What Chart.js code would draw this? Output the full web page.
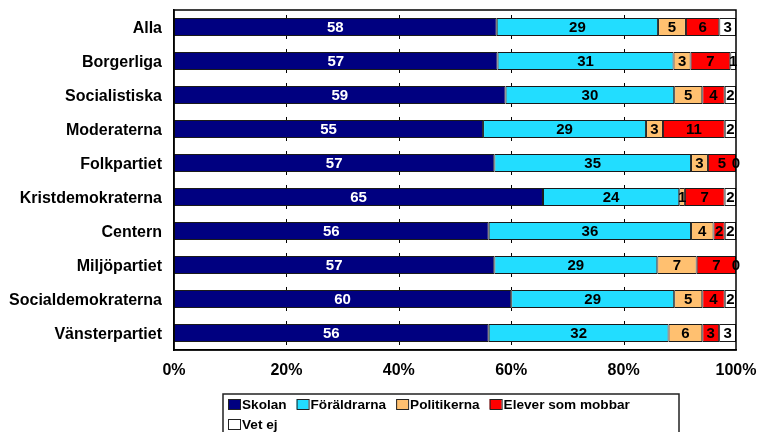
<!DOCTYPE html>
<html>
<head>
<meta charset="utf-8">
<script src="https://cdn.jsdelivr.net/npm/chart.js@4.4.1/dist/chart.umd.min.js"></script>
<style>
  html, body { margin: 0; padding: 0; background: #fff; }
  #wrap { width: 759px; height: 432px; position: relative; }
</style>
</head>
<body>
<div id="wrap"><canvas id="c" width="759" height="432"></canvas></div>
<script>
const categories = ["Alla", "Borgerliga", "Socialistiska", "Moderaterna", "Folkpartiet",
  "Kristdemokraterna", "Centern", "Miljöpartiet", "Socialdemokraterna", "Vänsterpartiet"];
const seriesNames = ["Skolan", "Föräldrarna", "Politikerna", "Elever som mobbar", "Vet ej"];
const skolan      = [58, 57, 59, 55, 57, 65, 56, 57, 60, 56];
const foraldrarna = [29, 31, 30, 29, 35, 24, 36, 29, 29, 32];
const politikerna = [5, 3, 5, 3, 3, 1, 4, 7, 5, 6];
const elever      = [6, 7, 4, 11, 5, 7, 2, 7, 4, 3];
const vetEj       = [3, 1, 2, 2, 0, 2, 2, 0, 2, 3];
const xTicks = [0, 20, 40, 60, 80, 100];

const raw = [skolan, foraldrarna, politikerna, elever, vetEj];
const colors = ["#000080", "#22DDFF", "#FFC070", "#FF0000", "#FFFFFF"];
const labelColors = ["#FFFFFF", "#000000", "#000000", "#000000", "#000000"];
const totals = categories.map((_, i) => raw.reduce((s, arr) => s + arr[i], 0));

const datasets = raw.map((arr, k) => ({
  label: seriesNames[k],
  data: arr.map((v, i) => v / totals[i] * 100),
  rawValues: arr,
  backgroundColor: colors[k],
  borderColor: "#1a1a1a",
  borderWidth: 1,
  borderSkipped: false,
  barPercentage: 1.0,
  categoryPercentage: 0.53
}));

const FONT = "'Liberation Sans', Arial, Helvetica, sans-serif";

const framePlugin = {
  id: 'frame',
  afterDraw(chart) {
    const { ctx, chartArea: a } = chart;
    ctx.save();
    ctx.strokeStyle = '#000';
    ctx.lineWidth = 1.5;
    ctx.strokeRect(a.left, a.top, a.right - a.left, a.bottom - a.top);
    ctx.restore();
  }
};

const tickMarkPlugin = {
  id: 'tickMarks',
  beforeDatasetsDraw(chart) {
    const { ctx } = chart;
    const xs = chart.scales.x;
    const meta = chart.getDatasetMeta(0);
    ctx.save();
    ctx.strokeStyle = '#000';
    ctx.lineWidth = 1;
    xTicks.slice(1, -1).forEach(t => {
      const px = Math.round(xs.getPixelForValue(t)) + 0.5;
      meta.data.forEach(bar => {
        const top = bar.y - bar.height / 2;
        const bot = bar.y + bar.height / 2;
        ctx.beginPath();
        ctx.moveTo(px, top - 3); ctx.lineTo(px, top);
        ctx.moveTo(px, bot); ctx.lineTo(px, bot + 3);
        ctx.stroke();
      });
    });
    ctx.restore();
  }
};

const valueLabelPlugin = {
  id: 'valueLabels',
  afterDatasetsDraw(chart) {
    const { ctx } = chart;
    ctx.save();
    ctx.font = "bold 15px " + FONT;
    ctx.textAlign = 'center';
    ctx.textBaseline = 'middle';
    chart.data.datasets.forEach((ds, k) => {
      const meta = chart.getDatasetMeta(k);
      meta.data.forEach((bar, i) => {
        const v = ds.rawValues[i];
        const cx = (bar.x + bar.base) / 2;
        ctx.fillStyle = labelColors[k];
        ctx.fillText(String(v), cx, bar.y + 1);
      });
    });
    ctx.restore();
  }
};

const boxLegendPlugin = {
  id: 'boxLegend',
  afterDraw(chart) {
    const { ctx } = chart;
    const left = 223, top = 394, width = 456, height = 44;
    const rowH = 20;
    ctx.save();
    ctx.strokeStyle = '#222';
    ctx.lineWidth = 1.5;
    ctx.strokeRect(left, top, width, height);
    ctx.font = "bold 13.6px " + FONT;
    ctx.textBaseline = 'middle';
    ctx.textAlign = 'left';
    let x = left + 5, row = 0;
    chart.data.datasets.forEach((ds, k) => {
      const tw = ctx.measureText(ds.label).width;
      const itemW = 15 + tw;
      if (x + itemW > left + width - 5) { row++; x = left + 5; }
      const cy = top + 10 + row * rowH;
      ctx.fillStyle = ds.backgroundColor;
      ctx.fillRect(x, cy - 5, 12, 10);
      ctx.strokeStyle = '#222';
      ctx.lineWidth = 1;
      ctx.strokeRect(x + 0.5, cy - 4.5, 12, 10);
      ctx.fillStyle = '#000';
      ctx.fillText(ds.label, x + 14, cy + 1);
      x += itemW + 9;
    });
    ctx.restore();
  }
};

new Chart(document.getElementById('c'), {
  type: 'bar',
  data: { labels: categories, datasets },
  options: {
    indexAxis: 'y',
    responsive: false,
    animation: false,
    maintainAspectRatio: false,
    layout: { padding: { top: 10, right: 23, left: 0, bottom: 0 } },
    plugins: {
      legend: { display: false },
      tooltip: { enabled: false }
    },
    scales: {
      x: {
        stacked: true,
        min: 0, max: 100,
        afterBuildTicks(scale) { scale.ticks = xTicks.map(v => ({ value: v })); },
        afterFit(scale) {
          scale.height = 82;
          scale.paddingLeft = 0; scale.paddingRight = 0;
          scale.paddingTop = 0; scale.paddingBottom = 0;
        },
        grid: { display: false, drawTicks: false },
        border: { display: true, color: '#000', width: 1.5 },
        ticks: {
          padding: 11,
          color: '#000',
          font: { family: FONT, size: 16, weight: 'bold' },
          callback: v => v + '%',
          maxRotation: 0
        }
      },
      y: {
        stacked: true,
        afterFit(scale) {
          scale.width = 174;
          scale.paddingLeft = 0; scale.paddingRight = 0;
          scale.paddingTop = 0; scale.paddingBottom = 0;
        },
        grid: { display: false, drawTicks: false },
        border: { display: true, color: '#000', width: 1.5 },
        ticks: {
          padding: 12,
          labelOffset: 2,
          color: '#000',
          font: { family: FONT, size: 16, weight: 'bold' }
        }
      }
    }
  },
  plugins: [tickMarkPlugin, valueLabelPlugin, framePlugin, boxLegendPlugin]
});
</script>
</body>
</html>
